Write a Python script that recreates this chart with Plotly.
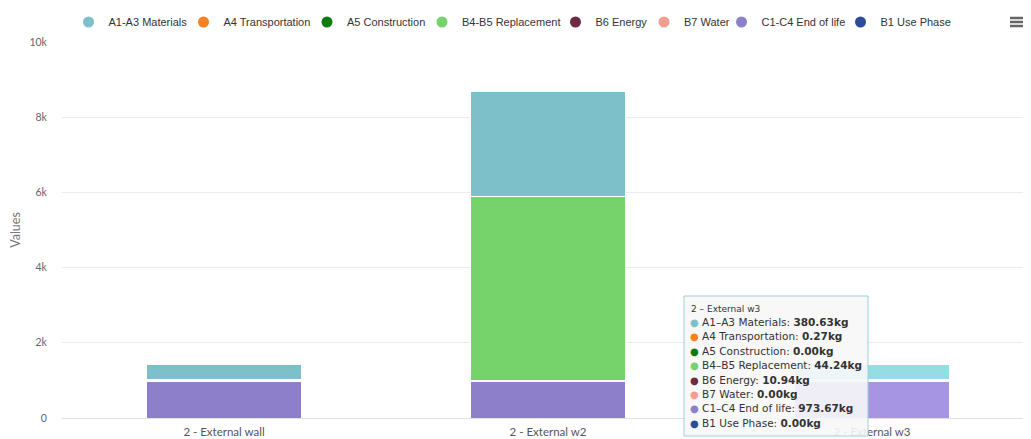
import plotly.graph_objects as go

categories = ["2 - External wall", "2 - External w2", "2 - External w3"]
series_names = ["A1-A3 Materials", "A4 Transportation", "A5 Construction", "B4-B5 Replacement",
                "B6 Energy", "B7 Water", "C1-C4 End of life", "B1 Use Phase"]
series_colors = ["#7dc0c9", "#f7811e", "#0f7a0f", "#76d36c", "#6e2a44", "#f0a08e", "#8e7fcb", "#2c4c99"]
hover_colors = ["#95dde4", "#ff9a3a", "#2a952a", "#8fec85", "#88445e", "#ffbaa8", "#a595e3", "#4666b3"]

a1_a3 = [380.63, 2790.0, 380.63]
a4 = [0.27, 0.8, 0.27]
a5 = [0.0, 0.0, 0.0]
b4_b5 = [44.24, 4890.0, 44.24]
b6 = [10.94, 12.0, 10.94]
b7 = [0.0, 0.0, 0.0]
c1_c4 = [973.67, 980.0, 973.67]
b1 = [0.0, 0.0, 0.0]
series_values = [a1_a3, a4, a5, b4_b5, b6, b7, c1_c4, b1]

y_tickvals = [0, 2000, 4000, 6000, 8000, 10000]
y_ticktext = ["0", "2k", "4k", "6k", "8k", "10k"]

tooltip_title = "2 - External w3"
tooltip_idx = 2

# page body adds an 8px offset; layout numbers below are in figure pixels
W, H = 1031, 439
OFF = 8
PL, PT, PR, PB = 62 - OFF, 42 - OFF, W - (1031 - OFF), H - (418 - OFF)
PW, PH = W - PL - PR, H - PT - PB

def px_x(wx):
    return (wx - OFF - PL) / PW

def px_y(wy):
    return (H - PB - (wy - OFF)) / PH

# legend item positions in window pixels (circle centre, text start)
legend_circle_x = [93, 207, 331, 447, 579, 669, 747, 864]
legend_text_x = [104, 220, 343, 457, 592, 679, 756, 877]

fig = go.Figure()

# stacked bars: first series on top, so add in reverse order
for i in reversed(range(len(series_names))):
    cols = [series_colors[i]] * len(categories)
    cols[tooltip_idx] = hover_colors[i]
    fig.add_trace(go.Bar(
        x=categories, y=series_values[i], name=series_names[i],
        marker=dict(color=cols, line=dict(color="white", width=1)),
        showlegend=False,
    ))

legend_layouts = {}
for i, n in enumerate(series_names):
    lname = "legend" if i == 0 else f"legend{i + 1}"
    fig.add_trace(go.Scatter(
        x=[None], y=[None], mode="markers", name=n,
        marker=dict(symbol="circle", size=11, color=series_colors[i]),
        showlegend=True, legend=lname,
    ))
    left = ((legend_circle_x[i] - 20) + (legend_text_x[i] - 40)) / 2 - OFF
    legend_layouts[lname] = dict(
        orientation="h", xref="container", yref="container",
        x=left / W, xanchor="left",
        y=1 - (22 - OFF) / H, yanchor="middle",
        font=dict(family="Liberation Sans", size=11, color="#333333"),
        bgcolor="rgba(0,0,0,0)", borderwidth=0, itemclick=False,
    )

# tooltip box
fig.add_shape(type="rect", xref="paper", yref="paper",
              x0=px_x(684), x1=px_x(868), y0=px_y(436), y1=px_y(296),
              fillcolor="rgba(247,247,247,0.9)", line=dict(color="#9fd0d6", width=1),
              layer="above")
fig.add_annotation(
    xref="paper", yref="paper", x=px_x(689), y=px_y(309),
    xanchor="left", yanchor="middle", align="left", showarrow=False,
    text=tooltip_title.replace("-", "–"),
    font=dict(family="DejaVu Sans", size=9, color="#333333"),
)
for i, n in enumerate(series_names):
    fig.add_annotation(
        xref="paper", yref="paper", x=px_x(688), y=px_y(322 + 14.4 * i),
        xanchor="left", yanchor="middle", align="left", showarrow=False,
        text=(f"<span style='color:{series_colors[i]};font-size:10px'>●</span> {n.replace('-', '–')}: "
              f"<b>{series_values[i][tooltip_idx]:.2f}kg</b>"),
        font=dict(family="DejaVu Sans", size=10.5, color="#333333"),
    )

# export menu icon
for k in range(3):
    fig.add_shape(type="line", xref="paper", yref="paper",
                  x0=px_x(1010), x1=px_x(1034),
                  y0=px_y(18 + 4 * k), y1=px_y(18 + 4 * k),
                  line=dict(color="#666666", width=2.5))

fig.update_layout(
    width=W, height=H,
    margin=dict(l=PL, r=PR, t=PT, b=PB),
    barmode="stack", bargap=0.52,
    plot_bgcolor="white", paper_bgcolor="white",
    xaxis=dict(range=[-0.5, -0.5 + PW / 324], showgrid=False, showline=True,
               linecolor="#e0e0e0", linewidth=1, ticks="", automargin=False,
               ticklabelstandoff=3,
               tickfont=dict(family="Lato", size=11.5, color="#555555")),
    yaxis=dict(range=[0, 10000], tickvals=y_tickvals, ticktext=y_ticktext,
               showgrid=True, gridcolor="#ececec", gridwidth=1, zeroline=False,
               ticks="outside", ticklen=12, tickcolor="rgba(0,0,0,0)", automargin=False,
               tickfont=dict(family="Lato", size=10.5, color="#666666"),
               title=dict(text="Values", font=dict(family="Lato", size=12.5, color="#777777"),
                          standoff=10)),
    showlegend=True,
    **legend_layouts,
)

fig.write_html("out.html")
